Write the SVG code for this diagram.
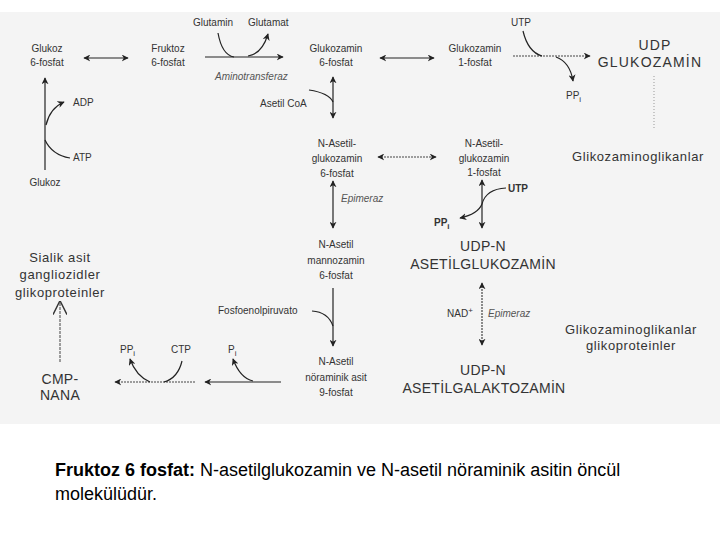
<svg xmlns="http://www.w3.org/2000/svg" width="720" height="540" viewBox="0 0 720 540">
<defs>
<marker id="ah" viewBox="0 0 10 10" refX="9" refY="5" markerWidth="7" markerHeight="7" orient="auto-start-reverse" markerUnits="userSpaceOnUse">
<path d="M0,0 L10,5 L0,10 L3,5 Z" fill="#222"/>
</marker>
<marker id="oh" viewBox="0 0 10 10" refX="9" refY="5" markerWidth="14" markerHeight="14" orient="auto" markerUnits="userSpaceOnUse">
<path d="M0,0 L10,5 L0,10" fill="none" stroke="#333" stroke-width="1"/>
</marker>
<style>
text{font-family:"Liberation Sans",Arial,sans-serif;fill:#333;}
.s{font-size:10px;}
.m{font-size:13px;letter-spacing:0.6px;}
.l{font-size:14px;letter-spacing:0.3px;}
.lw{font-size:14px;letter-spacing:1.2px;}
.it{font-size:10px;font-style:italic;fill:#555;}
.c{text-anchor:middle;}
.ln{fill:none;stroke:#222;stroke-width:1.2;}
.dt{fill:none;stroke:#444;stroke-width:1.2;stroke-dasharray:2 1;}
.cap{font-size:18px;fill:#000;font-family:"Liberation Sans",Arial,sans-serif;}
</style>
</defs>
<rect x="0" y="12" width="720" height="412" fill="#f4f4f4"/>

<g id="connectors">
<line class="ln" x1="84" y1="58" x2="128" y2="58" marker-start="url(#ah)" marker-end="url(#ah)"/>
<line class="ln" x1="205" y1="57" x2="283" y2="57" marker-end="url(#ah)"/>
<path class="ln" d="M218,33 Q222,55 234,57"/>
<path class="ln" d="M248,56 Q262,54 268,34" marker-end="url(#ah)"/>
<line class="ln" x1="380" y1="58" x2="434" y2="58" marker-start="url(#ah)" marker-end="url(#ah)"/>
<line class="dt" x1="513" y1="56" x2="590" y2="56" marker-end="url(#ah)"/>
<path class="ln" d="M523,31 Q528,52 542,56"/>
<path class="ln" d="M556,57 Q570,62 573,81" marker-end="url(#ah)"/>
<line x1="654" y1="76" x2="654" y2="128" stroke="#999" stroke-width="1" stroke-dasharray="1 2"/>
<line class="ln" x1="45" y1="170" x2="45" y2="78" marker-end="url(#ah)"/>
<path class="ln" d="M46,125 Q50,108 64,102" marker-end="url(#ah)"/>
<path class="ln" d="M45,140 Q52,155 70,158"/>
<line class="ln" x1="333" y1="77" x2="333" y2="118" marker-start="url(#ah)" marker-end="url(#ah)"/>
<path class="ln" d="M309,90 Q329,93 333,102"/>
<line class="dt" x1="378" y1="157" x2="436" y2="157" marker-start="url(#ah)" marker-end="url(#ah)"/>
<line class="ln" x1="333" y1="181" x2="333" y2="228" marker-start="url(#ah)" marker-end="url(#ah)"/>
<line class="ln" x1="482" y1="180" x2="482" y2="228" marker-start="url(#ah)" marker-end="url(#ah)"/>
<path class="ln" d="M506,188 Q486,189 482,204"/>
<path class="ln" d="M482,204 Q478,214 460,218" marker-end="url(#ah)"/>
<line class="dt" x1="482" y1="283" x2="482" y2="345" stroke="#888" marker-start="url(#ah)" marker-end="url(#ah)"/>
<line class="ln" x1="333" y1="288" x2="333" y2="346" marker-end="url(#ah)"/>
<path class="ln" d="M312,311 Q328,312 333,326"/>
<line class="ln" x1="281" y1="382" x2="205" y2="382" marker-end="url(#ah)"/>
<path class="ln" d="M253,381 Q240,378 233,359" marker-end="url(#ah)"/>
<line class="dt" x1="195" y1="382" x2="115" y2="382" marker-end="url(#ah)"/>
<path class="ln" d="M150,382 Q136,376 130,359" marker-end="url(#ah)"/>
<path class="ln" d="M164,382 Q178,378 182,361"/>
<line x1="60" y1="362" x2="60" y2="302" stroke="#444" stroke-width="1" stroke-dasharray="3 1" marker-end="url(#oh)"/>
</g>

<g id="glutamin"><text class="s" x="193" y="26">Glutamin</text></g>
<g id="glutamat"><text class="s" x="248" y="26">Glutamat</text></g>
<g id="aminotransferaz"><text class="it" x="215" y="80">Aminotransferaz</text></g>
<g id="glukoz6p"><text class="s c" x="47" y="52">Glukoz</text><text class="s c" x="47" y="66">6-fosfat</text></g>
<g id="fruktoz6p"><text class="s c" x="168" y="52">Fruktoz</text><text class="s c" x="168" y="66">6-fosfat</text></g>
<g id="glukozamin6p"><text class="s c" x="336" y="52">Glukozamin</text><text class="s c" x="336" y="66">6-fosfat</text></g>
<g id="glukozamin1p"><text class="s c" x="475" y="52">Glukozamin</text><text class="s c" x="475" y="66">1-fosfat</text></g>
<g id="utp1"><text class="s" x="511" y="26">UTP</text></g>
<g id="ppi1"><text class="s" x="566" y="99">PP<tspan font-size="8" dy="3">i</tspan></text></g>
<g id="udpglukozamin"><text class="lw c" x="655" y="50">UDP</text><text class="lw c" x="650" y="67">GLUKOZAMİN</text></g>
<g id="glikozaminoglikanlar1"><text class="m" x="572" y="161">Glikozaminoglikanlar</text></g>
<g id="adp"><text class="s" x="73" y="106">ADP</text></g>
<g id="atp"><text class="s" x="73" y="161">ATP</text></g>
<g id="glukoz"><text class="s c" x="45" y="186">Glukoz</text></g>
<g id="asetilcoa"><text class="s" x="260" y="107">Asetil CoA</text></g>
<g id="nag6p"><text class="s c" x="337" y="147">N-Asetil-</text><text class="s c" x="337" y="162">glukozamin</text><text class="s c" x="337" y="177">6-fosfat</text></g>
<g id="nag1p"><text class="s c" x="484" y="147">N-Asetil-</text><text class="s c" x="484" y="162">glukozamin</text><text class="s c" x="484" y="176">1-fosfat</text></g>
<g id="epimeraz1"><text class="it" x="341" y="202">Epimeraz</text></g>
<g id="utp2"><text class="s" x="508" y="192" font-weight="bold">UTP</text></g>
<g id="ppi2"><text class="s" x="434" y="226" font-weight="bold">PP<tspan font-size="8" dy="3">i</tspan></text></g>
<g id="udpnag"><text class="l c" x="483" y="251">UDP-N</text><text class="l c" x="483" y="269">ASETİLGLUKOZAMİN</text></g>
<g id="nad"><text class="s" x="447" y="317">NAD<tspan font-size="8" dy="-4">+</tspan></text></g>
<g id="epimeraz2"><text class="it" x="488" y="317">Epimeraz</text></g>
<g id="udpngal"><text class="l c" x="483" y="375">UDP-N</text><text class="l c" x="484" y="393">ASETİLGALAKTOZAMİN</text></g>
<g id="glikozaminoglikanlar2"><text class="m c" x="631" y="334">Glikozaminoglikanlar</text><text class="m c" x="631" y="350">glikoproteinler</text></g>
<g id="nam6p"><text class="s c" x="336" y="248">N-Asetil</text><text class="s c" x="336" y="264">mannozamin</text><text class="s c" x="336" y="279">6-fosfat</text></g>
<g id="fosfoenolpiruvat"><text class="s" x="218" y="314">Fosfoenolpiruvato</text></g>
<g id="nana9p"><text class="s c" x="336" y="365">N-Asetil</text><text class="s c" x="336" y="381">nöraminik asit</text><text class="s c" x="336" y="396">9-fosfat</text></g>
<g id="pi"><text class="s" x="228" y="353">P<tspan font-size="8" dy="3">i</tspan></text></g>
<g id="ppi3"><text class="s" x="120" y="353">PP<tspan font-size="8" dy="3">i</tspan></text></g>
<g id="ctp"><text class="s" x="171" y="353">CTP</text></g>
<g id="cmpnana"><text class="l c" x="60" y="384">CMP-</text><text class="l c" x="60" y="400">NANA</text></g>
<g id="sialik"><text class="m c" x="60" y="262">Sialik asit</text><text class="m c" x="60" y="279">gangliozidler</text><text class="m c" x="60" y="297">glikoproteinler</text></g>

<g id="caption">
<text class="cap" x="55" y="476"><tspan font-weight="bold">Fruktoz 6 fosfat:</tspan> N-asetilglukozamin ve N-asetil nöraminik asitin öncül</text>
<text class="cap" x="55" y="500">molekülüdür.</text>
</g>
</svg>
